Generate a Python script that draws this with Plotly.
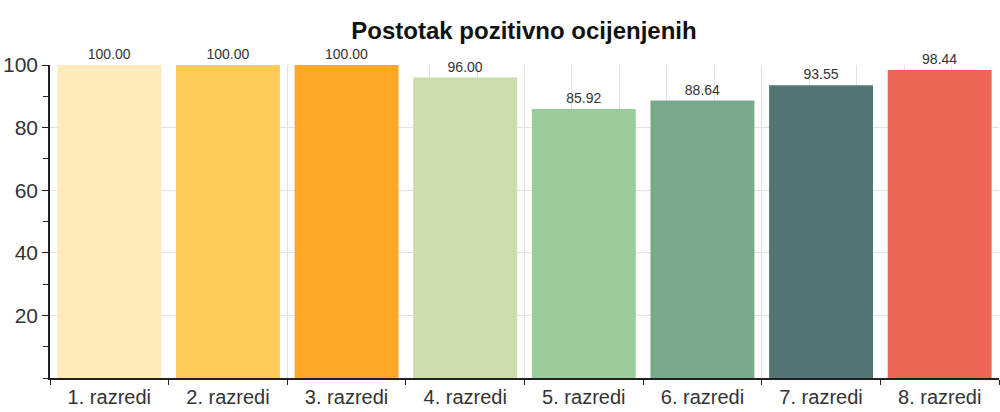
import plotly.graph_objects as go

# chart data
razredi = ['1. razredi', '2. razredi', '3. razredi', '4. razredi',
           '5. razredi', '6. razredi', '7. razredi', '8. razredi']
postotak = [100.00, 100.00, 100.00, 96.00, 85.92, 88.64, 93.55, 98.44]
boje = ['#FEEBB9', '#FECA58', '#FEA826', '#CDDDAA',
        '#9ACB98', '#78A988', '#527675', '#EE6655']

FONT = 'Liberation Sans Narrow, Liberation Sans, Arial, sans-serif'

fig = go.Figure()
fig.add_trace(go.Bar(x=razredi, y=postotak,
                     marker={'color': boje, 'line': {'width': 0}},
                     texttemplate='%{y:.2f}', textposition='outside',
                     textfont={'family': FONT, 'size': 14, 'color': '#333'},
                     cliponaxis=False, showlegend=False,
                     hoverinfo='x+y'))

# invisible trace just to carry the linear grid axis
fig.add_trace(go.Scatter(x=[-0.5, 7.5], y=[0, 0], xaxis='x2', mode='markers',
                         marker={'opacity': 0}, showlegend=False, hoverinfo='skip'))

fig.update_layout(
    width=1000, height=412,
    margin={'l': 50, 'r': 1, 't': 65, 'b': 34, 'autoexpand': False},
    plot_bgcolor='white', paper_bgcolor='white',
    bargap=0.124,
    font={'family': FONT, 'size': 20, 'color': '#333'},
    title={'text': '<b>Postotak pozitivno ocijenjenih</b>',
           'font': {'family': FONT, 'size': 24, 'color': '#111'},
           'x': 0.524, 'xanchor': 'center', 'y': 0.905, 'yanchor': 'bottom'},
    xaxis={'type': 'category', 'showgrid': False, 'tickson': 'boundaries',
           'ticks': 'outside', 'ticklen': 5, 'tickcolor': '#222',
           'showline': True, 'linecolor': '#222', 'linewidth': 1.5,
           'automargin': False,
           'tickfont': {'size': 20, 'color': '#333'}},
    xaxis2={'overlaying': 'x', 'range': [-0.5, 7.5], 'tick0': -0.5, 'dtick': 0.4,
            'showgrid': True, 'gridcolor': '#e2e2e2', 'gridwidth': 1,
            'showticklabels': False, 'ticks': '', 'zeroline': False,
            'showline': False, 'automargin': False},
    yaxis={'range': [0, 100], 'tickvals': [20, 40, 60, 80, 100],
           'showgrid': True, 'gridcolor': '#e2e2e2', 'gridwidth': 1,
           'ticks': 'outside', 'ticklen': 6, 'tickcolor': '#222',
           'showline': True, 'linecolor': '#222', 'linewidth': 1.5,
           'zeroline': False, 'automargin': False,
           'minor': {'dtick': 10, 'ticks': 'outside', 'ticklen': 5,
                     'tickcolor': '#222', 'showgrid': False},
           'tickfont': {'size': 21, 'color': '#333'}},
)

# drop the default page margin so the figure sits at the window corner
fig.write_html('out.html', config={'displayModeBar': False},
               post_script="document.body.style.margin='0';")
